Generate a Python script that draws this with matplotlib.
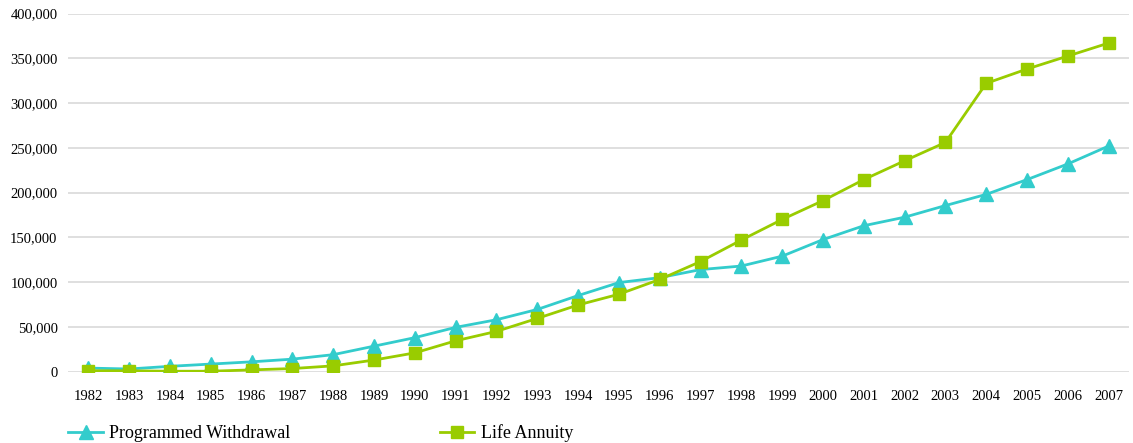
"""
Programmed withdrawal vs life annuity pensions, 1982-2007.
Recreated as a simple two-series line chart.
"""
import matplotlib.pyplot as plt
from matplotlib.ticker import FuncFormatter

plt.rcParams["font.family"] = ["Liberation Serif", "DejaVu Serif"]

years = list(range(1982, 2008))
programmed_withdrawal = [
    4000, 3000, 6000, 8500, 11000, 14000, 19000, 28500, 38000, 49500,
    58000, 69500, 85000, 99500, 105000, 114000, 118000, 129000, 147500,
    163000, 172500, 185500, 198000, 214500, 232000, 252000,
]
life_annuity = [
    1000, 1000, 500, 500, 2000, 3500, 6500, 13000, 21000, 34500,
    45000, 59500, 74500, 86500, 103000, 123000, 147000, 170000, 191000,
    214500, 235500, 256000, 322000, 338000, 352500, 367000,
]
y_ticks = list(range(0, 400001, 50000))

TEAL = "#33CCCC"
GREEN = "#99CC00"

fig = plt.figure(figsize=(11.33, 4.43), dpi=100)
ax = fig.add_axes([0.060, 0.161, 0.9365, 0.8085])

ax.plot(years, programmed_withdrawal, color=TEAL, lw=2, marker="^",
        markersize=10, label="Programmed Withdrawal")
ax.plot(years, life_annuity, color=GREEN, lw=2, marker="s",
        markersize=8.5, label="Life Annuity")

ax.set_xlim(1981.5, 2007.5)
ax.set_ylim(0, 400000)
ax.set_xticks(years)
ax.set_yticks(y_ticks)
ax.yaxis.set_major_formatter(FuncFormatter(lambda v, _: f"{int(v):,}"))

ax.grid(axis="y", color="#d9d9d9", lw=1.2)
ax.set_axisbelow(True)
for side in ["top", "right", "left", "bottom"]:
    ax.spines[side].set_visible(False)
ax.tick_params(axis="both", length=0, labelsize=10.5, colors="black")
ax.tick_params(axis="x", pad=13)
ax.tick_params(axis="y", pad=7.5)

fig.legend(loc="lower left", bbox_to_anchor=(0.046, -0.035), ncol=2,
           frameon=False, fontsize=13, handlelength=1.9, handletextpad=0.35,
           columnspacing=8.3)

fig.savefig("out.png", dpi=100)
